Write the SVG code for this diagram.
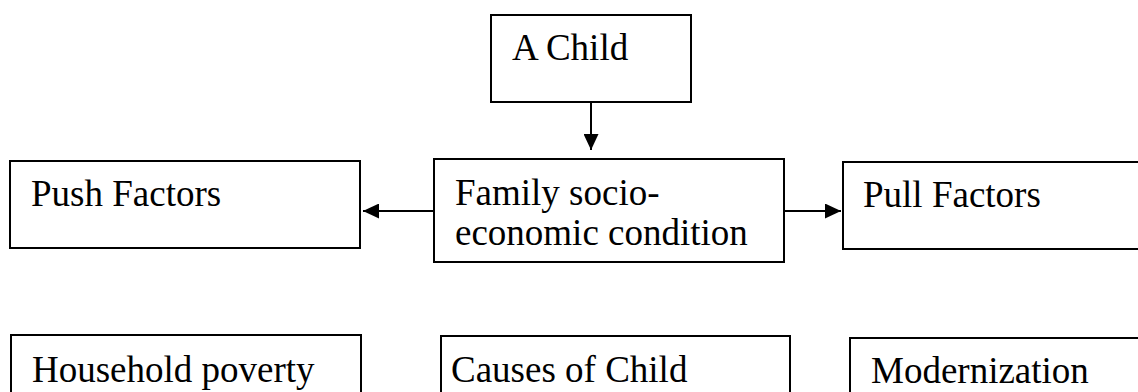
<svg xmlns="http://www.w3.org/2000/svg" width="1138" height="392" viewBox="0 0 1138 392">
<style>
.box{fill:#fff;stroke:#000;stroke-width:2}
.t{font-family:"Liberation Serif","Times New Roman",serif;font-size:37px;fill:#000}
.c{stroke:#000;stroke-width:2;fill:none}
</style>
<defs>
<marker id="ah" markerUnits="userSpaceOnUse" markerWidth="16" markerHeight="15" refX="16" refY="7.5" orient="auto">
<path d="M0,0 L16,7.5 L0,15 z" fill="#000"/>
</marker>
</defs>
<rect width="1138" height="392" fill="#fff"/>
<g id="child"><rect class="box" x="491" y="15" width="200" height="87"/><text class="t" x="512" y="60">A Child</text></g>
<g id="family"><rect class="box" x="434" y="159" width="350" height="103"/><text class="t" x="455" y="205">Family socio-</text><text class="t" x="455" y="245">economic condition</text></g>
<g id="push"><rect class="box" x="10" y="161" width="350" height="87"/><text class="t" x="31" y="206">Push Factors</text></g>
<g id="pull"><rect class="box" x="843" y="162" width="350" height="87"/><text class="t" x="863" y="207">Pull Factors</text></g>
<g id="household"><rect class="box" x="11" y="335" width="350" height="80"/><text class="t" x="32" y="382">Household poverty</text></g>
<g id="causes"><rect class="box" x="441" y="336" width="349" height="80"/><text class="t" x="451" y="382">Causes of Child</text></g>
<g id="modern"><rect class="box" x="850" y="338" width="350" height="80"/><text class="t" x="871" y="383">Modernization</text></g>
<g id="connectors">
<line class="c" x1="591" y1="102" x2="591" y2="150" marker-end="url(#ah)"/>
<line class="c" x1="434" y1="211" x2="363" y2="211" marker-end="url(#ah)"/>
<line class="c" x1="784" y1="211" x2="841" y2="211" marker-end="url(#ah)"/>
</g>
</svg>
